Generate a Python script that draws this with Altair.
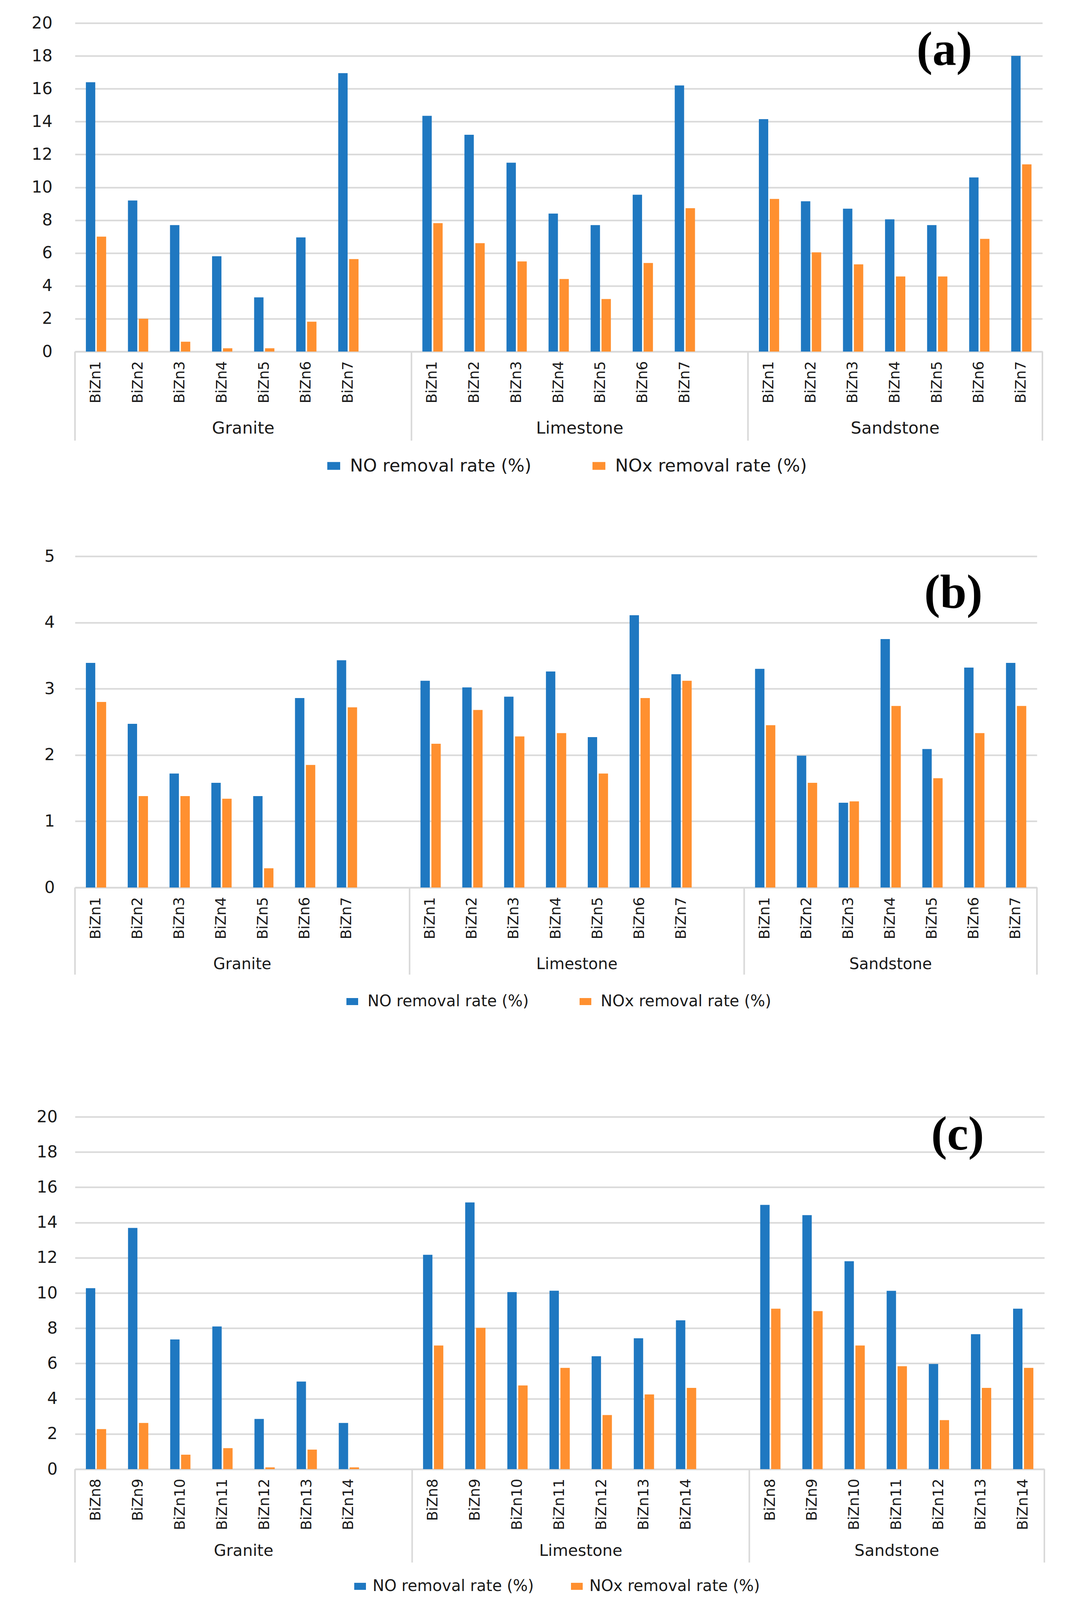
import altair as alt
import pandas as pd

# categories
GROUPS = ["Granite", "Limestone", "Sandstone"]
SERIES = ["NO removal rate (%)", "NOx removal rate (%)"]
COLORS = ["#1f78c1", "#ff9030"]

CATS_AB = ["BiZn1", "BiZn2", "BiZn3", "BiZn4", "BiZn5", "BiZn6", "BiZn7"]
CATS_C = ["BiZn8", "BiZn9", "BiZn10", "BiZn11", "BiZn12", "BiZn13", "BiZn14"]

# panel (a) - order: Granite x7, Limestone x7, Sandstone x7
A_NO = [16.4, 9.2, 7.7, 5.8, 3.3, 6.95, 16.95,
        14.35, 13.2, 11.5, 8.4, 7.7, 9.55, 16.2,
        14.15, 9.15, 8.7, 8.05, 7.7, 10.6, 18.0]
A_NOX = [7.0, 2.0, 0.6, 0.2, 0.2, 1.82, 5.63,
         7.82, 6.6, 5.49, 4.42, 3.2, 5.39, 8.73,
         9.29, 6.04, 5.31, 4.57, 4.57, 6.86, 11.4]

# panel (b)
B_NO = [3.39, 2.47, 1.72, 1.58, 1.38, 2.86, 3.43,
        3.12, 3.02, 2.88, 3.26, 2.27, 4.11, 3.22,
        3.30, 1.99, 1.28, 3.75, 2.09, 3.32, 3.39]
B_NOX = [2.80, 1.38, 1.38, 1.34, 0.29, 1.85, 2.72,
         2.17, 2.68, 2.28, 2.33, 1.72, 2.86, 3.12,
         2.45, 1.58, 1.30, 2.74, 1.65, 2.33, 2.74]

# panel (c)
C_NO = [10.27, 13.69, 7.36, 8.10, 2.85, 4.97, 2.62,
        12.17, 15.14, 10.05, 10.13, 6.41, 7.43, 8.45,
        15.0, 14.42, 11.8, 10.12, 5.97, 7.66, 9.11]
C_NOX = [2.27, 2.62, 0.82, 1.19, 0.1, 1.11, 0.1,
         7.02, 8.02, 4.75, 5.75, 3.07, 4.24, 4.61,
         9.11, 8.97, 7.02, 5.84, 2.78, 4.61, 5.75]

Y_TICKS_A = [0, 2, 4, 6, 8, 10, 12, 14, 16, 18, 20]
Y_TICKS_B = [0, 1, 2, 3, 4, 5]
Y_TICKS_C = [0, 2, 4, 6, 8, 10, 12, 14, 16, 18, 20]

FONT = "DejaVu Sans"
TEXT = "#1a1a1a"
GRID = "#d9d9d9"
K = 0.872  # vertical squeeze so the whole figure fits the photographed page


def slot_domain(cats):
    # excel style: one empty slot after each group except the last
    keys = []
    for i, g in enumerate(GROUPS):
        keys += [g + "|" + c for c in cats]
        if i < len(GROUPS) - 1:
            keys.append(g + "|")
    return keys


def panel(cats, no_vals, nox_vals, y_max, y_ticks, letter, lay):
    n = len(cats)
    rows = []
    for gi, g in enumerate(GROUPS):
        for ci, c in enumerate(cats):
            rows.append({"key": g + "|" + c, "series": SERIES[0], "value": no_vals[gi * n + ci]})
            rows.append({"key": g + "|" + c, "series": SERIES[1], "value": nox_vals[gi * n + ci]})
    df = pd.DataFrame(rows)
    W, H = lay["w"], round(lay["h"] * K)

    xscale = alt.Scale(domain=slot_domain(cats), paddingInner=0, paddingOuter=0)
    xaxis = alt.Axis(title=None, labelExpr="split(datum.value, '|')[1]", labelAngle=270,
                     labelFont=FONT, labelFontSize=37, labelColor=TEXT, labelPadding=24,
                     labelOverlap=False, labelLimit=1000, ticks=False, grid=False,
                     domainColor=GRID, domainWidth=4)

    def xenc(band=None):
        if band is None:
            return alt.X("key:N", scale=xscale, axis=xaxis)
        return alt.X("key:N", scale=xscale, axis=xaxis, bandPosition=band)

    bars = alt.Chart(df).mark_bar().encode(
        x=xenc(),
        xOffset=alt.XOffset("series:N", scale=alt.Scale(domain=SERIES, paddingInner=0.14, paddingOuter=1.0)),
        y=alt.Y("value:Q", scale=alt.Scale(domain=[0, y_max], nice=False),
                axis=alt.Axis(title=None, values=y_ticks, labelFont=FONT, labelFontSize=42,
                              labelColor=TEXT, labelPadding=lay["ypad"], ticks=False, domain=False,
                              gridColor=GRID, gridWidth=4, minExtent=lay["ext"], maxExtent=lay["ext"])),
        color=alt.Color("series:N", scale=alt.Scale(domain=SERIES, range=COLORS),
                        legend=alt.Legend(orient="none", legendX=lay["lgx"],
                                          legendY=H + round(lay["lgy"] * K) - lay["lfs"] // 2,
                                          direction="horizontal", title=None, padding=0,
                                          symbolType="M-1,-0.6L1,-0.6L1,0.6L-1,0.6Z",
                                          symbolSize=lay["sym"] ** 2, symbolStrokeWidth=0,
                                          labelFont=FONT, labelFontSize=lay["lfs"], labelColor=TEXT,
                                          labelOffset=lay["loff"], columnPadding=lay["cpad"],
                                          labelLimit=1000)),
    )

    # group separators below the category axis
    sep_h = round(lay["sep"] * K)
    left_edges = pd.DataFrame({"key": [g + "|" + cats[0] for g in GROUPS]})
    right_edge = pd.DataFrame({"key": [GROUPS[-1] + "|" + cats[-1]]})
    sep_style = dict(color=GRID, strokeWidth=4)
    sep_l = alt.Chart(left_edges).mark_rule(**sep_style).encode(
        x=xenc(0), y=alt.value(H), y2=alt.value(H + sep_h))
    sep_r = alt.Chart(right_edge).mark_rule(**sep_style).encode(
        x=xenc(1), y=alt.value(H), y2=alt.value(H + sep_h))

    # group labels centred on their span
    gy = H + round(lay["gy"] * K)
    txt_style = dict(font=FONT, fontSize=lay["gfs"], color=TEXT, align="center", baseline="middle")
    grp_full = pd.DataFrame({"key": [g + "|" + cats[3] for g in GROUPS[:-1]], "name": GROUPS[:-1]})
    grp_last = pd.DataFrame({"key": [GROUPS[-1] + "|" + cats[3]], "name": [GROUPS[-1]]})
    g1 = alt.Chart(grp_full).mark_text(**txt_style).encode(
        x=xenc(1), y=alt.value(gy), text="name:N")
    g2 = alt.Chart(grp_last).mark_text(**txt_style).encode(
        x=xenc(0.5), y=alt.value(gy), text="name:N")

    tag = alt.Chart(pd.DataFrame({"t": [letter]})).mark_text(
        font="Liberation Serif", fontWeight="bold", fontSize=122, color="black",
        align="center", baseline="middle").encode(
        x=alt.value(lay["lx"]), y=alt.value(round(lay["ly"] * K)), text="t:N")

    return alt.layer(bars, sep_l, sep_r, g1, g2, tag).properties(width=W, height=H)


LAY_A = dict(w=2477, h=964, ext=155, ypad=58, lgx=640, lgy=335, sym=33, lfs=45, loff=19,
             cpad=150, gfs=43, gy=226, sep=262, lx=2226, ly=80)
LAY_B = dict(w=2463, h=972, ext=182, ypad=52, lgx=690, lgy=335, sym=30, lfs=40, loff=19,
             cpad=125, gfs=40, gy=226, sep=256, lx=2249, ly=109)
LAY_C = dict(w=2482, h=1034, ext=184, ypad=45, lgx=710, lgy=344, sym=30, lfs=40, loff=12,
             cpad=90, gfs=41, gy=241, sep=274, lx=2260, ly=54)

pa = panel(CATS_AB, A_NO, A_NOX, 20, Y_TICKS_A, "(a)", LAY_A)
pb = panel(CATS_AB, B_NO, B_NOX, 5, Y_TICKS_B, "(b)", LAY_B)
pc = panel(CATS_C, C_NO, C_NOX, 20, Y_TICKS_C, "(c)", LAY_C)

# every panel keeps its own legend
top_pair = alt.concat(pa, pb, columns=1, align="none", spacing=187).resolve_scale(color="independent")
chart = alt.concat(top_pair, pc, columns=1, align="none", spacing=254).resolve_scale(
    color="independent"
).properties(
    padding={"left": 0, "top": 30, "right": 0, "bottom": 20},
    background="white",
).configure_view(stroke=None)

chart.save("out.html", embed_options={"renderer": "svg", "actions": False})
